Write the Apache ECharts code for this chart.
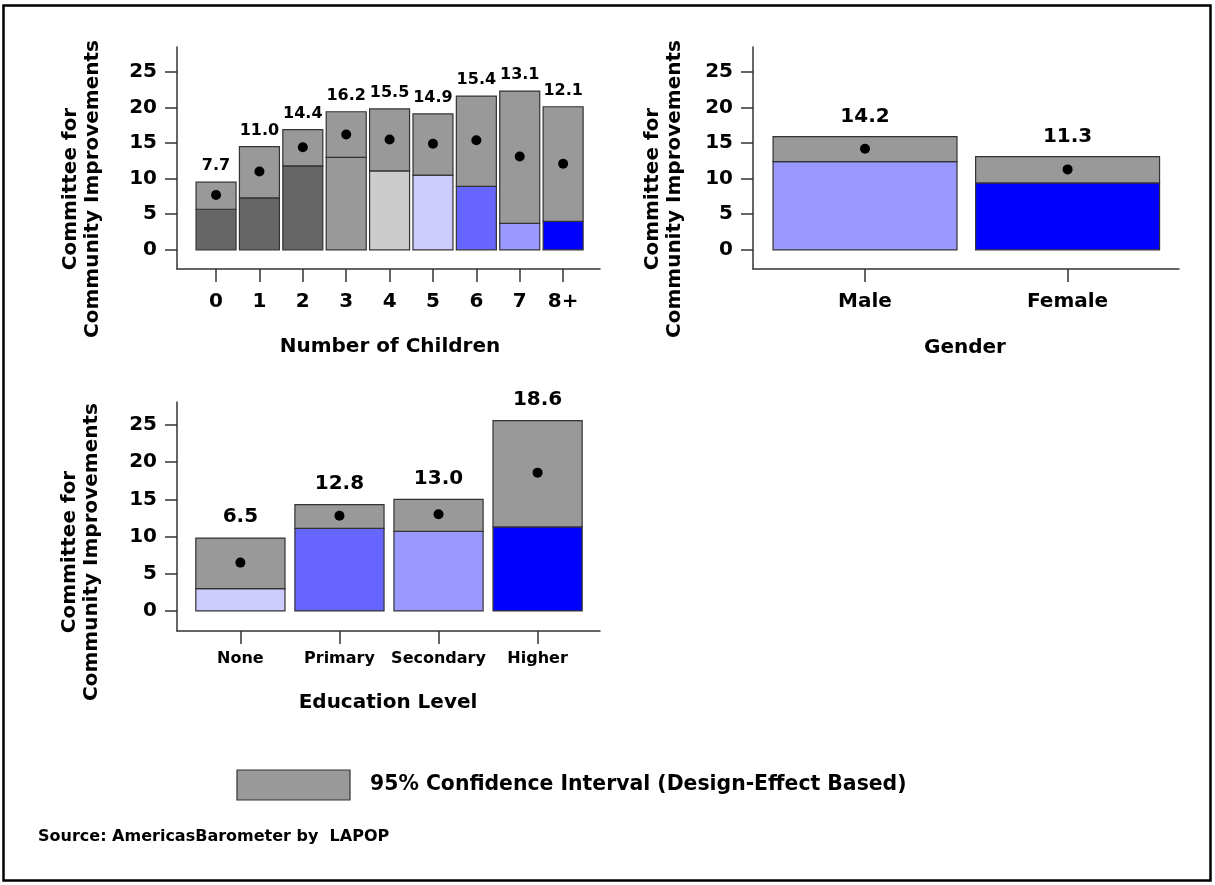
<!DOCTYPE html>
<html>
<head>
<meta charset="utf-8">
<title>Committee for Community Improvements</title>
<script src="https://cdn.jsdelivr.net/npm/echarts@6/dist/echarts.min.js"></script>
<style>
  html, body { margin: 0; padding: 0; background: #fff; }
  #chart { width: 1215px; height: 885px; }
</style>
</head>
<body>
<div id="chart"></div>
<script>
// Participation in committees for community improvements (%), with 95% CI
const childCats = ['0', '1', '2', '3', '4', '5', '6', '7', '8+'];
const childEst  = [7.7, 11.0, 14.4, 16.2, 15.5, 14.9, 15.4, 13.1, 12.1];
const childLow  = [5.7, 7.3, 11.8, 13.0, 11.1, 10.5, 8.9, 3.7, 4.0];
const childHigh = [9.5, 14.5, 16.9, 19.4, 19.8, 19.1, 21.6, 22.3, 20.1];

const genderCats = ['Male', 'Female'];
const genderEst  = [14.2, 11.3];
const genderLow  = [12.4, 9.4];
const genderHigh = [15.9, 13.1];

const eduCats = ['None', 'Primary', 'Secondary', 'Higher'];
const eduEst  = [6.5, 12.8, 13.0, 18.6];
const eduLow  = [3.0, 11.1, 10.7, 11.3];
const eduHigh = [9.8, 14.3, 15.0, 25.6];

const yTicks = [0, 5, 10, 15, 20, 25];

// fill colours for the part of each bar below the interval
const childFill  = ['#666666', '#666666', '#666666', '#999999', '#cccccc', '#ccccff', '#6666ff', '#9999ff', '#0000ff'];
const genderFill = ['#9999ff', '#0000ff'];
const eduFill    = ['#ccccff', '#6666ff', '#9999ff', '#0000ff'];

const FONT = 'DejaVu Sans';
const CI_GRAY = '#999999';
const EDGE = '#333333';

const chart = echarts.init(document.getElementById('chart'), null, { renderer: 'canvas' });

function rows(est, low, high) {
  return est.map((e, i) => [i, low[i], high[i], e]);
}

function barRenderer(fills, frac, labelSize, labelGap) {
  return function (params, api) {
    const x = api.value(0), lo = api.value(1), hi = api.value(2), est = api.value(3);
    const w = api.size([1, 0])[0] * frac;
    const pBase = api.coord([x, 0]);
    const pLo = api.coord([x, lo]);
    const pHi = api.coord([x, hi]);
    const left = pBase[0] - w / 2;
    return {
      type: 'group',
      children: [
        {
          type: 'rect',
          shape: { x: left, y: pLo[1], width: w, height: pBase[1] - pLo[1] },
          style: { fill: fills[params.dataIndex], stroke: EDGE, lineWidth: 1.2 }
        },
        {
          type: 'rect',
          shape: { x: left, y: pHi[1], width: w, height: pLo[1] - pHi[1] },
          style: { fill: CI_GRAY, stroke: EDGE, lineWidth: 1.2 }
        },
        {
          type: 'text',
          x: pBase[0],
          y: pHi[1] - labelGap,
          style: {
            text: est.toFixed(1),
            fill: '#000',
            font: 'bold ' + labelSize + 'px "' + FONT + '"',
            align: 'center',
            verticalAlign: 'middle'
          }
        }
      ]
    };
  };
}

function xAxisFor(gridIndex, cats, min, max, labelSize, margin) {
  const idx = cats.map((c, i) => i);
  return {
    type: 'value', gridIndex, min, max,
    axisLine: { show: true, onZero: false, lineStyle: { color: EDGE, width: 1.5 } },
    axisTick: { show: true, customValues: idx, length: 13, lineStyle: { color: EDGE, width: 1.5 } },
    axisLabel: {
      customValues: idx, margin,
      formatter: v => cats[Math.round(v)],
      color: '#000', fontFamily: FONT, fontWeight: 'bold', fontSize: labelSize
    },
    splitLine: { show: false }
  };
}

function yAxisFor(gridIndex, min, max) {
  return {
    type: 'value', gridIndex, min, max,
    axisLine: { show: true, onZero: false, lineStyle: { color: EDGE, width: 1.5 } },
    axisTick: { show: true, customValues: yTicks, length: 12, lineStyle: { color: EDGE, width: 1.5 } },
    axisLabel: {
      customValues: yTicks, margin: 20,
      color: '#000', fontFamily: FONT, fontWeight: 'bold', fontSize: 20
    },
    splitLine: { show: false }
  };
}

function panelSeries(axisIndex, data, fills, frac, labelSize, labelGap) {
  return [
    {
      type: 'custom',
      xAxisIndex: axisIndex, yAxisIndex: axisIndex,
      renderItem: barRenderer(fills, frac, labelSize, labelGap),
      encode: { x: 0, y: [1, 2] },
      clip: false,
      data
    },
    {
      type: 'scatter',
      xAxisIndex: axisIndex, yAxisIndex: axisIndex,
      symbol: 'circle', symbolSize: 10,
      itemStyle: { color: '#000', opacity: 1 },
      z: 5,
      data: data.map(r => [r[0], r[3]])
    }
  ];
}

function text(x, y, str, size, align) {
  return {
    type: 'text', x, y,
    style: {
      text: str, fill: '#000',
      font: 'bold ' + size + 'px "' + FONT + '"',
      align: align || 'center', verticalAlign: 'middle'
    }
  };
}

function yName(x, y) {
  return {
    type: 'text', x, y, rotation: Math.PI / 2,
    style: {
      text: 'Committee for\nCommunity Improvements', fill: '#000',
      font: 'bold 20px "' + FONT + '"', lineHeight: 22,
      align: 'center', verticalAlign: 'middle'
    }
  };
}

chart.setOption({
  animation: false,
  backgroundColor: '#ffffff',
  grid: [
    { left: 177, top: 47, width: 423, height: 222 },
    { left: 753, top: 47, width: 426, height: 222 },
    { left: 177, top: 402, width: 423, height: 229 }
  ],
  xAxis: [
    xAxisFor(0, childCats, -0.9, 8.85, 20, 23),
    xAxisFor(1, genderCats, -0.553, 1.55, 20, 23),
    xAxisFor(2, eduCats, -0.64, 3.63, 16, 20)
  ],
  yAxis: [
    yAxisFor(0, -2.7, 28.5),
    yAxisFor(1, -2.7, 28.5),
    yAxisFor(2, -2.7, 28.1)
  ],
  series: [].concat(
    panelSeries(0, rows(childEst, childLow, childHigh), childFill, 0.922, 16, 16),
    panelSeries(1, rows(genderEst, genderLow, genderHigh), genderFill, 0.908, 20, 20),
    panelSeries(2, rows(eduEst, eduLow, eduHigh), eduFill, 0.9, 20, 21)
  ),
  graphic: [
    { type: 'rect', shape: { x: 3.5, y: 5.5, width: 1207, height: 875 }, style: { fill: null, stroke: '#000', lineWidth: 2.5 }, silent: true },
    yName(82, 189),
    yName(664, 189),
    yName(81, 552),
    text(390, 347, 'Number of Children', 20),
    text(965, 348, 'Gender', 20),
    text(388, 703, 'Education Level', 20),
    { type: 'rect', shape: { x: 237, y: 770, width: 113, height: 30 }, style: { fill: CI_GRAY, stroke: EDGE, lineWidth: 1.2 } },
    text(370, 785, '95% Confidence Interval (Design-Effect Based)', 20.4, 'left'),
    text(38, 837, 'Source: AmericasBarometer by  LAPOP', 16, 'left')
  ]
});
</script>
</body>
</html>
